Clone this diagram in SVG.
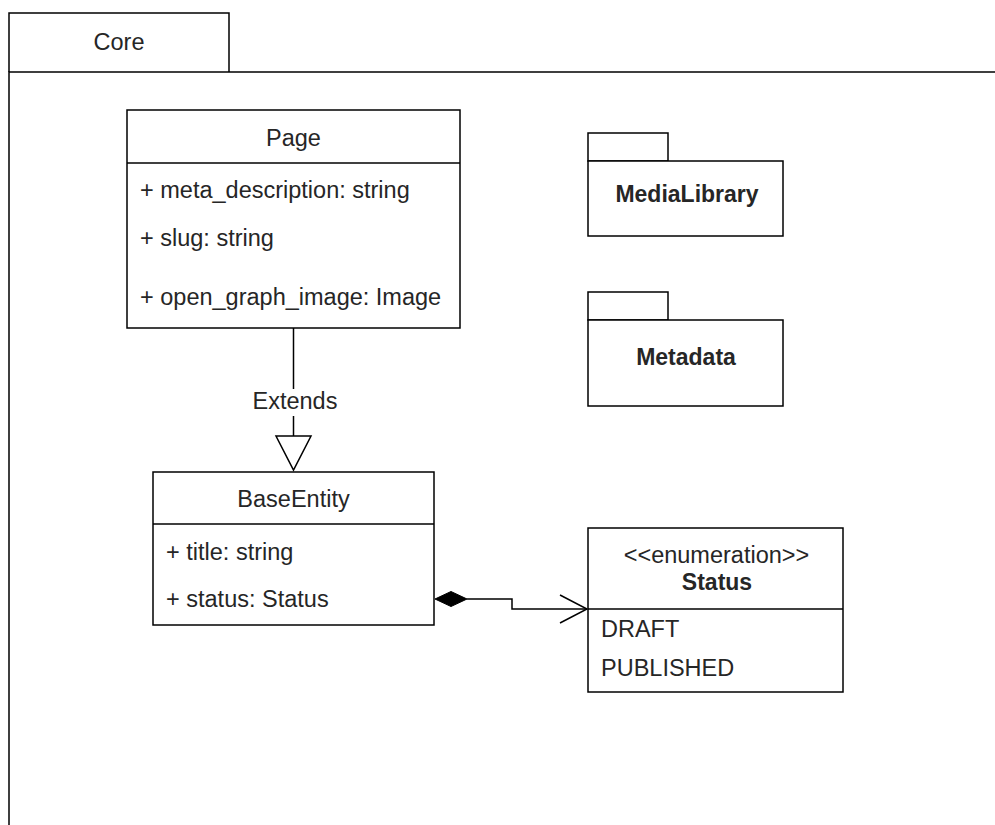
<svg xmlns="http://www.w3.org/2000/svg" width="995" height="825" viewBox="0 0 995 825">
  <style>
    .box { fill: #ffffff; stroke: #000000; stroke-width: 1.5; }
    .ln { fill: none; stroke: #000000; stroke-width: 1.5; }
    text { font-family: "Liberation Sans", Arial, sans-serif; font-size: 23.5px; fill: #262626; }
    .mid { text-anchor: middle; }
    .bold { font-weight: bold; font-size: 23px; }
  </style>
  <rect x="0" y="0" width="995" height="825" fill="#ffffff"/>

  <!-- Core package frame -->
  <g id="core">
    <path class="ln" d="M9,72 V13 H229 V72"/>
    <path class="ln" d="M995,72 H9 V825"/>
    <text class="mid" x="119" y="50">Core</text>
  </g>

  <!-- Page class -->
  <g id="page">
    <rect class="box" x="127" y="110" width="333" height="218"/>
    <line class="ln" x1="127" y1="163" x2="460" y2="163"/>
    <text class="mid" x="293.5" y="146">Page</text>
    <text x="140" y="198">+ meta_description: string</text>
    <text x="140" y="246">+ slug: string</text>
    <text x="140" y="305">+ open_graph_image: Image</text>
  </g>

  <!-- BaseEntity class -->
  <g id="base-entity">
    <rect class="box" x="153" y="472" width="281" height="153"/>
    <line class="ln" x1="153" y1="524" x2="434" y2="524"/>
    <text class="mid" x="293.5" y="507">BaseEntity</text>
    <text x="166" y="560">+ title: string</text>
    <text x="166" y="607">+ status: Status</text>
  </g>

  <!-- Status enumeration -->
  <g id="status">
    <rect class="box" x="588" y="528" width="255" height="164"/>
    <line class="ln" x1="588" y1="609" x2="843" y2="609"/>
    <text class="mid" x="716.5" y="563" style="font-size:23.5px">&lt;&lt;enumeration&gt;&gt;</text>
    <text class="mid bold" x="717" y="590">Status</text>
    <text x="601" y="637">DRAFT</text>
    <text x="601" y="676">PUBLISHED</text>
  </g>

  <!-- MediaLibrary package -->
  <g id="media-library">
    <rect class="box" x="588" y="133" width="80" height="28"/>
    <rect class="box" x="588" y="161" width="195" height="75"/>
    <text class="mid bold" x="687" y="202">MediaLibrary</text>
  </g>

  <!-- Metadata package -->
  <g id="metadata">
    <rect class="box" x="588" y="292" width="80" height="28"/>
    <rect class="box" x="588" y="320" width="195" height="86"/>
    <text class="mid bold" x="686" y="365">Metadata</text>
  </g>

  <!-- Connectors -->
  <g id="connectors">
    <!-- Page extends BaseEntity -->
    <line class="ln" x1="293.5" y1="328" x2="293.5" y2="389"/>
    <line class="ln" x1="293.5" y1="416" x2="293.5" y2="436"/>
    <polygon class="box" points="276,436 311,436 293.5,470"/>
    <text class="mid" x="295" y="409">Extends</text>
    <!-- BaseEntity composes Status -->
    <path class="ln" d="M467,599 H512 V609 H587"/>
    <polygon points="435,599 451,591.5 467,599 451,606.5" fill="#000000" stroke="#000000" stroke-width="1"/>
    <polyline class="ln" points="560,595 587,609 560,623"/>
  </g>
</svg>
